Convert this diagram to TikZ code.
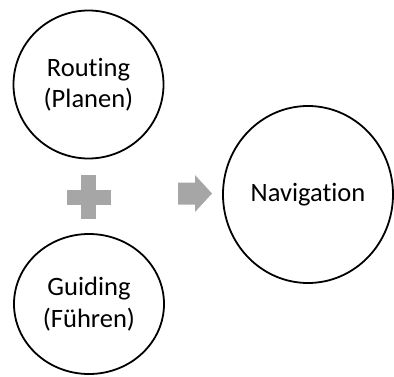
\documentclass[tikz,border=0pt]{standalone}
\usepackage{fontspec}
\setmainfont{Carlito}[Ligatures={NoCommon,NoContextual}]
\usetikzlibrary{shapes.geometric}
\definecolor{symgray}{RGB}{166,166,166}
\begin{document}
\begin{tikzpicture}[x=1pt,y=1pt,
  bubble/.style={ellipse,draw=black,line width=1.8pt,inner sep=0pt,align=center,
    font=\fontsize{26.5}{31.5}\selectfont},
  symbol/.style={fill=symgray,draw=none}]
\useasboundingbox (0,0) rectangle (394,376);
\node[bubble,minimum width=150pt,minimum height=148pt] (routing) at (88.5,291.5) {Routing\\(Planen)};
\node[bubble,minimum width=150pt,minimum height=140pt] (guiding) at (89,72) {Guiding\\(Führen)};
\node[bubble,minimum width=170pt,minimum height=177pt] (navigation) at (308,181.5) {Navigation};
% plus sign
\coordinate (plusc) at (88.5,179);
\fill[symbol] ([shift={(-22,-7.5)}]plusc) rectangle ([shift={(22,7.5)}]plusc);
\fill[symbol] ([shift={(-7.5,-22)}]plusc) rectangle ([shift={(7.5,22)}]plusc);
% arrow
\coordinate (arrowc) at (178,182.5);
\fill[symbol] ([shift={(0,-11)}]arrowc) -- ([shift={(17,-11)}]arrowc) -- ([shift={(17,-18.5)}]arrowc)
  -- ([shift={(34,0)}]arrowc) -- ([shift={(17,18.5)}]arrowc) -- ([shift={(17,11)}]arrowc)
  -- ([shift={(0,11)}]arrowc) -- cycle;
\end{tikzpicture}
\end{document}
